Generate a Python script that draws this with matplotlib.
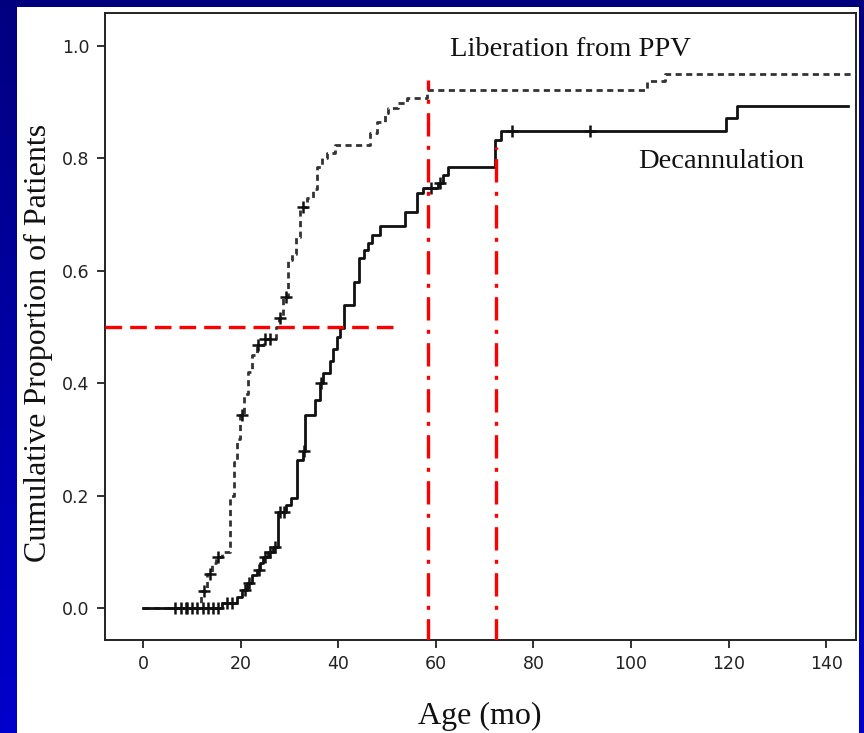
import numpy as np
import matplotlib
matplotlib.use("Agg")
import matplotlib.pyplot as plt
from matplotlib.patches import Rectangle

# Kaplan-Meier style cumulative curves (time in months, cumulative proportion)
lib_times = [0, 11.9, 13.1, 14.1, 15.0, 16.2, 17.8, 18.7, 19.3, 19.9, 20.7, 21.5, 22.3,
             23.4, 24.8, 27.3, 27.9, 28.7, 29.7, 30.5, 31.4, 32.2, 33.6, 34.8, 35.7,
             36.7, 37.7, 39.4, 46.5, 48.0, 49.6, 50.2, 52.3, 54.1, 58.2, 103.3, 107.0]
lib_props = [0, 0.03, 0.06, 0.08, 0.09, 0.10, 0.20, 0.26, 0.30, 0.343, 0.38, 0.42, 0.45,
             0.468, 0.478, 0.50, 0.516, 0.553, 0.62, 0.63, 0.66, 0.713, 0.73, 0.745, 0.785,
             0.80, 0.81, 0.824, 0.845, 0.865, 0.88, 0.89, 0.898, 0.907, 0.922, 0.937, 0.95]
lib_last = 146.0
lib_censored = [6.6, 9.0, 12.5, 13.8, 15.4, 20.3, 23.6, 25.0, 26.0, 28.0, 29.2, 32.8]

dec_times = [0, 16.2, 19.3, 20.3, 21.3, 22.3, 23.4, 24.0, 24.6, 25.6, 26.6, 27.7, 29.3,
             30.3, 31.6, 32.8, 33.2, 35.3, 36.3, 36.9, 38.3, 38.9, 39.8, 40.4, 41.2, 43.3,
             44.3, 45.3, 46.1, 46.9, 48.6, 53.7, 56.2, 57.4, 60.5, 61.5, 62.5, 72.2, 73.4,
             119.5, 121.8]
dec_props = [0, 0.009, 0.02, 0.032, 0.045, 0.058, 0.068, 0.08, 0.09, 0.10, 0.108, 0.17,
             0.183, 0.196, 0.263, 0.28, 0.343, 0.37, 0.40, 0.418, 0.44, 0.46, 0.482, 0.498,
             0.54, 0.58, 0.623, 0.637, 0.65, 0.663, 0.68, 0.705, 0.738, 0.747, 0.757, 0.77,
             0.785, 0.833, 0.849, 0.872, 0.893]
dec_last = 144.5
dec_censored = [7.8, 8.8, 10.0, 11.0, 12.3, 13.3, 14.3, 15.4, 17.2, 18.2, 20.8, 21.8,
                23.7, 24.9, 26.0, 27.0, 28.0, 28.9, 33.0, 36.4, 59.0, 60.9, 75.6, 91.6]

median_level = 0.5
median_line_end = 51.6
marker_ages = [58.4, 72.3]
marker_tops = [0.94, 0.82]

x_ticks = [0, 20, 40, 60, 80, 100, 120, 140]
y_ticks = [0.0, 0.2, 0.4, 0.6, 0.8, 1.0]

W, H = 864, 733
fig = plt.figure(figsize=(W / 100, H / 100), dpi=100)

# blue slide background with a vertical gradient
bg = fig.add_axes([0, 0, 1, 1], zorder=-10)
grad = np.linspace(0, 1, 256).reshape(-1, 1)
top_c = np.array([0.0, 0.0, 0.50])
bot_c = np.array([0.0, 0.0, 0.80])
img = top_c[None, None, :] * (1 - grad[:, :, None]) + bot_c[None, None, :] * grad[:, :, None]
bg.imshow(img, aspect="auto", extent=[0, 1, 0, 1], origin="upper")
bg.set_axis_off()

# white panel
fig.patches.append(Rectangle((17 / W, 0), (859 - 17) / W, 1 - 7 / H,
                             transform=fig.transFigure, facecolor="white",
                             edgecolor="none", zorder=-5))

ax = fig.add_axes([105 / W, 1 - 640 / H, (856 - 105) / W, (640 - 13) / H], zorder=1)
ax.set_facecolor("white")


def step_value(times, props, t):
    i = np.searchsorted(times, t, side="right") - 1
    return np.asarray(props)[i]


# Liberation from PPV (dotted)
lt = list(lib_times) + [lib_last]
lp = list(lib_props) + [lib_props[-1]]
ax.step(lt, lp, where="post", color="#333333", lw=2.0, dashes=(2.2, 1.6), zorder=3)
ax.plot(lib_censored, [step_value(lib_times, lib_props, t) for t in lib_censored],
        ls="none", marker="+", ms=9, mew=1.8, color="#111111", zorder=4)

# Decannulation (solid)
dt = list(dec_times) + [dec_last]
dp = list(dec_props) + [dec_props[-1]]
ax.step(dt, dp, where="post", color="#111111", lw=2.0, zorder=3)
ax.plot(dec_censored, [step_value(dec_times, dec_props, t) for t in dec_censored],
        ls="none", marker="+", ms=9, mew=1.8, color="#111111", zorder=4)

# red reference lines
x_left = -7.8
ax.plot([x_left, median_line_end], [median_level, median_level], color="#ff0000",
        lw=2.4, dashes=(5.0, 2.4), zorder=5, solid_capstyle="butt")
for a, t in zip(marker_ages, marker_tops):
    ax.plot([a, a], [-0.06, t], color="#ff0000", lw=2.4,
            dashes=(7.0, 2.8, 1.2, 2.8), zorder=5)

ax.set_xlim(x_left, 146.1)
ax.set_ylim(-0.0569, 1.0587)
ax.set_xticks(x_ticks)
ax.set_xticklabels([str(v) for v in x_ticks])
ax.set_yticks(y_ticks)
ax.set_yticklabels([f"{v:.1f}" for v in y_ticks])
ax.tick_params(axis="both", direction="out", length=6, width=1.3, color="#222222",
               labelsize=12.5, labelcolor="#222222", pad=5)
for s in ax.spines.values():
    s.set_linewidth(1.4)
    s.set_color("#222222")

ax.text(87.5, 0.993, "Liberation from PPV", family="Liberation Serif", fontsize=20.5,
        ha="center", va="center", color="#111111")
ax.text(118.5, 0.794, "Decannulation", family="Liberation Serif", fontsize=20.5,
        ha="center", va="center", color="#111111")

fig.text(480 / W, 1 - 716 / H, "Age (mo)", family="Liberation Serif", fontsize=23,
         ha="center", va="center", color="#111111")
fig.text(38 / W, 1 - 343 / H, "Cumulative Proportion of Patients",
         family="Liberation Serif", fontsize=23, rotation=90,
         ha="center", va="center", color="#111111")

fig.savefig("out.png", dpi=100)
